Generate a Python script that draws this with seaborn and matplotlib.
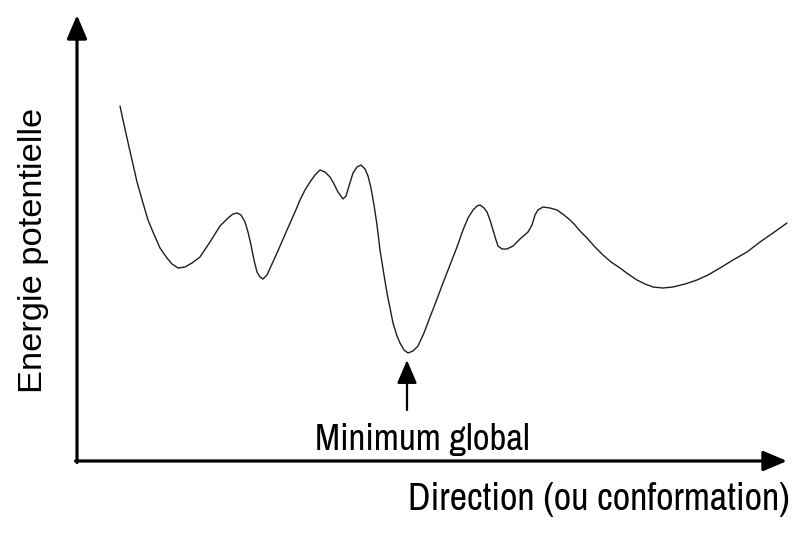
import numpy as np
import pandas as pd
import seaborn as sns
import matplotlib
matplotlib.use("Agg")
import matplotlib.pyplot as plt
from matplotlib import font_manager as fm

# ---- data ----
# direction: position along the conformation coordinate (arbitrary units)
direction = [43, 46, 50, 55, 60, 66, 71, 76, 83, 90,
             95, 101, 108, 115, 123, 133, 143, 151, 156, 160,
             164, 168, 171, 174, 177, 180, 183, 186, 190, 195,
             200, 210, 218, 223, 228, 233, 238, 243, 248, 253,
             257, 261, 266, 269, 272, 276, 280, 284, 288, 291,
             294, 297, 300, 303, 307, 310, 313, 316, 320, 323,
             327, 331, 336, 341, 347, 353, 360, 366, 373, 380,
             386, 391, 396, 400, 403, 407, 410, 413, 416, 419,
             421, 425, 430, 436, 443, 451, 455, 458, 461, 466,
             473, 480, 487, 493, 498, 503, 510, 518, 526, 534,
             543, 551, 560, 568, 576, 586, 596, 608, 620, 631,
             643, 656, 670, 683, 696, 710]
# energy: potential energy (arbitrary units)
energy = [355, 341, 323, 301, 279, 258, 241, 229, 213, 203,
          197, 193, 194, 198, 204, 219, 235, 243, 247, 248,
          246, 239, 229, 216, 201, 189, 184, 182, 186, 197,
          208, 231, 249, 261, 271, 279, 286, 291, 289, 284,
          277, 269, 262, 265, 275, 288, 294, 296, 292, 285,
          273, 256, 236, 211, 186, 168, 153, 138, 125, 118,
          111, 108, 110, 115, 128, 144, 162, 178, 196, 214,
          231, 243, 251, 255, 256, 253, 249, 241, 231, 221,
          215, 212, 212, 215, 222, 229, 236, 246, 251, 254,
          253, 251, 246, 241, 236, 230, 223, 214, 206, 199,
          193, 187, 181, 177, 174, 173, 174, 177, 181, 186,
          193, 201, 209, 219, 228, 238]

global_min_label = "Minimum global"
x_label = "Direction (ou conformation)"
y_label = "Energie potentielle"

# ---- fonts ----
sns.set_theme(style="white")
names = {f.name for f in fm.fontManager.ttflist}
regular = "Liberation Sans" if "Liberation Sans" in names else "DejaVu Sans"
narrow = "DejaVu Sans"
for cand in ["Archivo Narrow", "PT Sans Narrow", "Roboto Condensed"]:
    if cand in names:
        narrow = cand
        break
plt.rcParams["font.family"] = [regular, "DejaVu Sans"]

df = pd.DataFrame({"Direction": direction, "Energie": energy})

fig = plt.figure(figsize=(7.94, 5.36), dpi=100)
ax = fig.add_axes([0, 0, 1, 1])
ax.set_xlim(-77, 717)
ax.set_ylim(-75, 461)
ax.axis("off")

sns.lineplot(data=df, x="Direction", y="Energie", ax=ax, color="#1e1e1e",
             linewidth=1.0, estimator=None, sort=False)

# axis arrows
axis_arrow = dict(arrowstyle="-|>,head_length=0.4,head_width=0.17",
                  mutation_scale=36, color="black", lw=2.3,
                  shrinkA=0, shrinkB=0)
ax.annotate("", xy=(0, 446), xytext=(0, -1.5), arrowprops=axis_arrow)
ax.annotate("", xy=(710, 0), xytext=(-1.5, 0), arrowprops=axis_arrow)

# global minimum marker
min_arrow = dict(arrowstyle="-|>,head_length=0.4,head_width=0.17",
                 mutation_scale=36, color="black", lw=1.6,
                 shrinkA=0, shrinkB=0)
ax.annotate("", xy=(330, 101), xytext=(330, 51), arrowprops=min_arrow)

t1 = ax.text(345, 11, global_min_label, ha="center", va="baseline",
             fontsize=24, family=[narrow, "DejaVu Sans"], color="black")
t2 = ax.text(713, -49, x_label, ha="right", va="baseline",
             fontsize=24, family=[narrow, "DejaVu Sans"], color="black")
t3 = ax.text(-35, 211, y_label, ha="center", va="baseline",
             rotation=90, rotation_mode="anchor", fontsize=24, color="black")

# fit text sizes to the reference (widths in pixels, with a small boost for
# the narrow labels so that their letter height comes closer too)
fig.canvas.draw()
r = fig.canvas.get_renderer()
for t, target, vertical, boost in [(t1, 195, False, 1.1), (t2, 355, False, 1.08),
                                   (t3, 285, True, 1.0)]:
    bb = t.get_window_extent(r)
    size = bb.height if vertical else bb.width
    t.set_fontsize(t.get_fontsize() * target / size * boost)

fig.savefig("out.png", dpi=100, facecolor="white")
